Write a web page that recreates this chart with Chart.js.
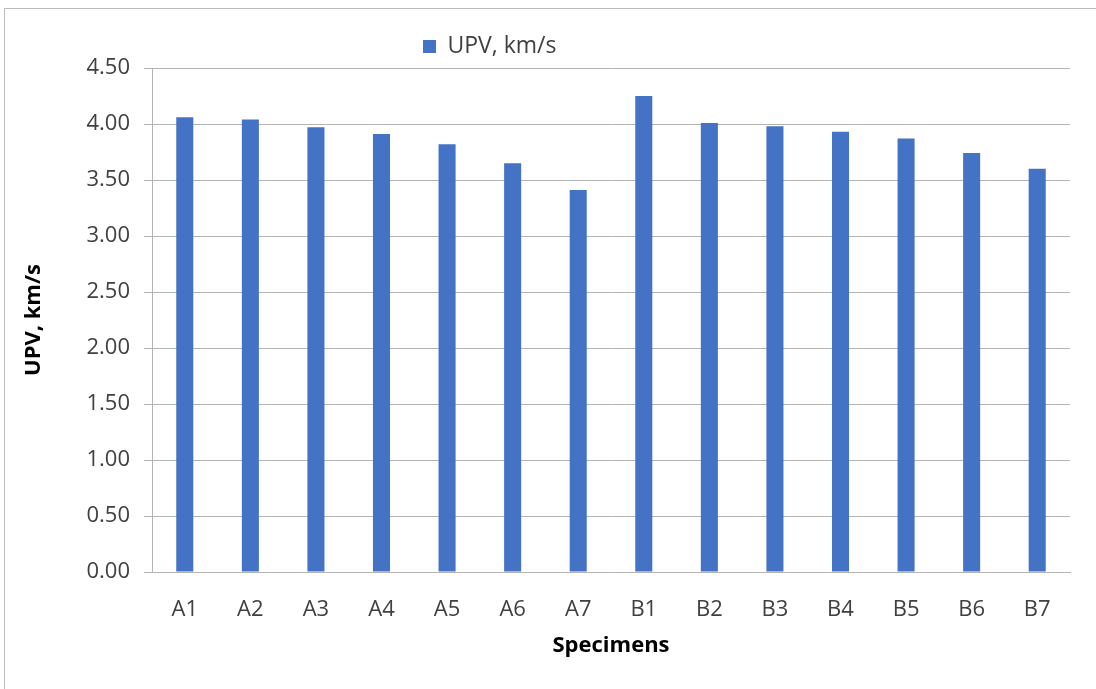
<!DOCTYPE html>
<html>
<head>
<meta charset="utf-8">
<script src="https://cdn.jsdelivr.net/npm/chart.js@4"></script>
<style>
  body { margin: 0; background: #fff; }
  #wrap { position: relative; width: 1096px; height: 689px; }
  #frame { position: absolute; left: 4px; top: 8px; right: 0; bottom: 0;
           border-left: 1px solid #bcbcbc; border-top: 1px solid #bcbcbc; }
  canvas { position: absolute; left: 0; top: 0; }
</style>
</head>
<body>
<div id="wrap">
  <div id="frame"></div>
  <canvas id="upvChart" width="1096" height="689"></canvas>
</div>
<script>
// Chart data
const specimens = ['A1', 'A2', 'A3', 'A4', 'A5', 'A6', 'A7', 'B1', 'B2', 'B3', 'B4', 'B5', 'B6', 'B7'];
const upvValues = [4.06, 4.04, 3.97, 3.91, 3.82, 3.65, 3.41, 4.25, 4.01, 3.98, 3.93, 3.87, 3.74, 3.60];
const yTicks = [0, 0.5, 1.0, 1.5, 2.0, 2.5, 3.0, 3.5, 4.0, 4.5];

const gridColor = '#b4b4b4';
const fontFamily = "'Open Sans', sans-serif";

// Move the legend to where it sits in the original
const legendShift = {
    id: 'legendShift',
    afterLayout(chart) {
        const lg = chart.legend;
        const dx = 413 - lg.left;
        lg.left += dx;
        lg.right += dx;
    }
};

const initUpvChart = () => {
    const ctx = document.getElementById('upvChart').getContext('2d');
    const data = {
        labels: specimens,
        datasets: [{
            label: 'UPV, km/s',
            data: upvValues,
            backgroundColor: '#4472c4',
            borderWidth: 0,
            categoryPercentage: 1,
            barPercentage: 0.26
        }]
    };

    const config = {
        type: 'bar',
        data: data,
        options: {
            responsive: false,
            animation: false,
            layout: {
                padding: { left: 0, right: 26, top: 25, bottom: 0 }
            },
            plugins: {
                legend: {
                    position: 'top',
                    align: 'start',
                    labels: {
                        boxWidth: 13,
                        boxHeight: 13,
                        padding: 10,
                        color: '#404040',
                        font: { family: fontFamily, size: 23 }
                    }
                },
                title: { display: false },
                tooltip: { enabled: false }
            },
            scales: {
                x: {
                    grid: { display: false },
                    border: { display: true, color: gridColor },
                    ticks: {
                        color: '#404040',
                        padding: 17,
                        font: { family: fontFamily, size: 22 }
                    },
                    title: {
                        display: true,
                        text: 'Specimens',
                        color: '#000',
                        padding: { top: 0, bottom: 30 },
                        font: { family: fontFamily, size: 22, weight: 'bold' }
                    },
                    afterFit: (scale) => { scale.height = 117; }
                },
                y: {
                    min: 0,
                    max: 4.5,
                    afterBuildTicks: (axis) => { axis.ticks = yTicks.map(v => ({ value: v })); },
                    grid: {
                        color: gridColor,
                        tickColor: gridColor,
                        tickLength: 8
                    },
                    border: { display: true, color: gridColor },
                    ticks: {
                        color: '#404040',
                        padding: 14,
                        font: { family: fontFamily, size: 22 },
                        callback: (v) => Number(v).toFixed(2)
                    },
                    title: {
                        display: true,
                        text: 'UPV, km/s',
                        color: '#000',
                        padding: { top: 21, bottom: 0 },
                        font: { family: fontFamily, size: 22, weight: 'bold' }
                    },
                    afterFit: (scale) => { scale.width = 152; }
                }
            }
        },
        plugins: [legendShift]
    };

    return new Chart(ctx, config);
};

let upvChart = initUpvChart();
</script>
</body>
</html>
